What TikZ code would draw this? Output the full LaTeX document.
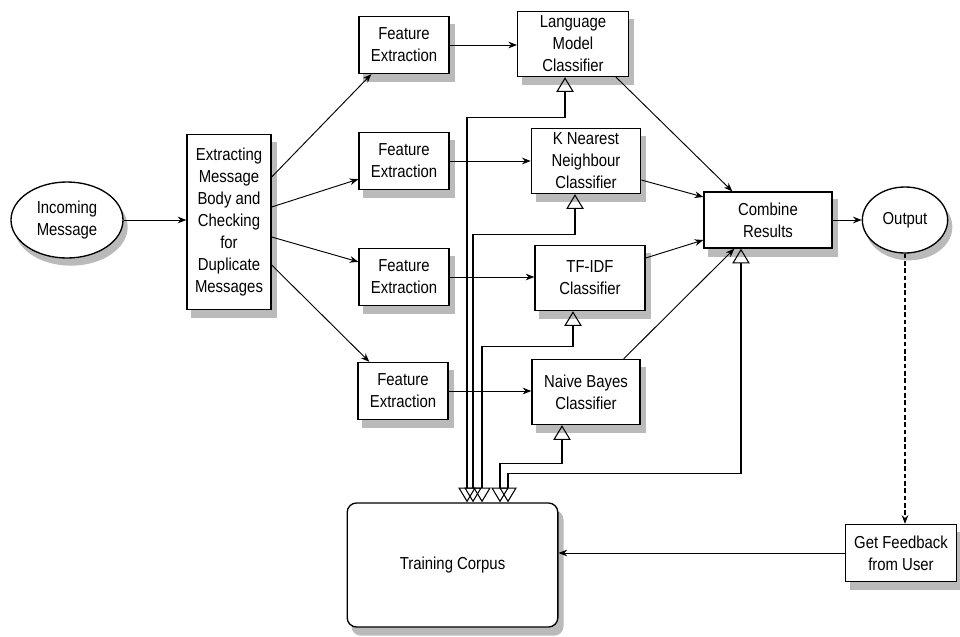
\documentclass[tikz,border=0pt]{standalone}
\usepackage{fontspec}
\setmainfont{Liberation Sans}[FakeStretch=0.86]
\usetikzlibrary{arrows.meta,shapes.geometric,calc,backgrounds}
\begin{document}
\begin{tikzpicture}[x=0.75pt,y=-0.75pt,
  every node/.style={font=\fontsize{13pt}{16.5pt}\selectfont, align=center, inner sep=0pt},
  procbox/.style={draw, line width=1pt, fill=white, rectangle},
  ovalbox/.style={draw, line width=1pt, fill=white, ellipse},
  shadowfill/.style={fill=black!27},
  flow/.style={line width=0.7pt, -{Stealth[length=6.5pt,width=5pt]}},
  dflow/.style={line width=0.8pt, dash pattern=on 3.5pt off 2pt, -{Stealth[length=6.5pt,width=5pt]}},
  tri/.style={line width=0.8pt, {Triangle[open,length=11pt,width=13pt]}-{Triangle[open,length=11pt,width=13pt]}}
]
\useasboundingbox (0,0) rectangle (960,636);

% nodes
\node[ovalbox, minimum width=84pt, minimum height=57pt] (inc) at (67,220) {Incoming\\Message};
\node[procbox, minimum width=63pt, minimum height=131pt] (ext) at (229,222) {Extracting\\Message\\Body and\\Checking\\for\\Duplicate\\Messages};
\node[procbox, minimum width=67.5pt, minimum height=42.75pt] (fe1) at (404,45) {Feature\\Extraction};
\node[procbox, minimum width=67.5pt, minimum height=42.75pt] (fe2) at (404,161) {Feature\\Extraction};
\node[procbox, minimum width=67.5pt, minimum height=42.75pt] (fe3) at (404,277) {Feature\\Extraction};
\node[procbox, minimum width=67.5pt, minimum height=42.75pt] (fe4) at (403,391) {Feature\\Extraction};
\node[procbox, minimum width=83pt, minimum height=48.75pt] (lm) at (573,44) {Language\\Model\\Classifier};
\node[procbox, minimum width=82pt, minimum height=48.75pt] (knn) at (586,161) {K Nearest\\Neighbour\\Classifier};
\node[procbox, minimum width=82.5pt, minimum height=48.75pt] (tfidf) at (590,278) {TF-IDF\\Classifier};
\node[procbox, minimum width=81pt, minimum height=48.75pt] (nb) at (586,392) {Naive Bayes\\Classifier};
\node[procbox, minimum width=96pt, minimum height=42pt] (comb) at (768,220) {Combine\\Results};
\node[ovalbox, minimum width=64pt, minimum height=49.5pt] (out) at (905,220) {Output};
\node[procbox, minimum width=83pt, minimum height=42.75pt] (fb) at (901,553) {Get Feedback\\from User};
\node[procbox, rounded corners=7pt, minimum width=158pt, minimum height=93pt] (corpus) at (452.5,565) {Training Corpus};

% shadows
\begin{scope}[on background layer]
  \fill[white] (0,0) rectangle (960,636);
  \foreach \n in {ext,fe1,fe2,fe3,fe4,lm,knn,tfidf,nb,comb,fb}
    \fill[shadowfill] ($(\n.south west)+(5,8)$) rectangle ($(\n.north east)+(5,8)$);
  \fill[shadowfill, rounded corners=7pt] ($(corpus.south west)+(5,8)$) rectangle ($(corpus.north east)+(5,8)$);
  \fill[shadowfill] ($(inc.center)+(4,7)$) ellipse [x radius=42.5pt, y radius=29pt];
  \fill[shadowfill] ($(out.center)+(4,7)$) ellipse [x radius=32.5pt, y radius=25pt];
\end{scope}

% main flow
\draw[flow] (inc.east) -- (inc.east -| ext.west);
\draw[flow] ($(ext.east)+(0,-45)$) -- ($(fe1.south west)+(13,0)$);
\draw[flow] ($(ext.east)+(0,-15)$) -- ($(fe2.south west)+(0,-11)$);
\draw[flow] ($(ext.east)+(0,15)$) -- ($(fe3.north west)+(0,14)$);
\draw[flow] ($(ext.east)+(0,43)$) -- ($(fe4.north west)+(12,0)$);
\draw[flow] (fe1.east) -- (fe1.east -| lm.west);
\draw[flow] (fe2.east) -- (fe2.east -| knn.west);
\draw[flow] (fe3.east) -- (fe3.east -| tfidf.west);
\draw[flow] (fe4.east) -- (fe4.east -| nb.west);
\draw[flow] ($(lm.south east)+(-13,0)$) -- ($(comb.north west)+(29,0)$);
\draw[flow] ($(knn.east)+(0,19)$) -- ($(comb.west)+(0,-23)$);
\draw[flow] ($(tfidf.east)+(0,-20)$) -- ($(comb.west)+(0,20)$);
\draw[flow] ($(nb.north east)+(-17,0)$) -- ($(comb.south west)+(31,0)$);
\draw[flow] (comb.east) -- (out.west);
\draw[dflow] (out.south) -- (out.south |- fb.north);
\draw[flow] (fb.west) -- (fb.west -| corpus.east);

% training corpus links
\draw[tri] ($(corpus.north)+(14.5,0)$) |- ($(lm.south)+(-8,40)$) -- ($(lm.south)+(-8,0)$);
\draw[tri] ($(corpus.north)+(20.5,0)$) |- ($(knn.south)+(-11,40)$) -- ($(knn.south)+(-11,0)$);
\draw[tri] ($(corpus.north)+(29.5,0)$) |- ($(tfidf.south)+(-17,35)$) -- ($(tfidf.south)+(-17,0)$);
\draw[tri] ($(corpus.north)+(47.5,0)$) |- ($(nb.south)+(-24,38)$) -- ($(nb.south)+(-24,0)$);
\draw[tri] ($(corpus.north)+(55.5,0)$) |- ($(comb.south)+(-27,225)$) -- ($(comb.south)+(-27,0)$);
\end{tikzpicture}
\end{document}
